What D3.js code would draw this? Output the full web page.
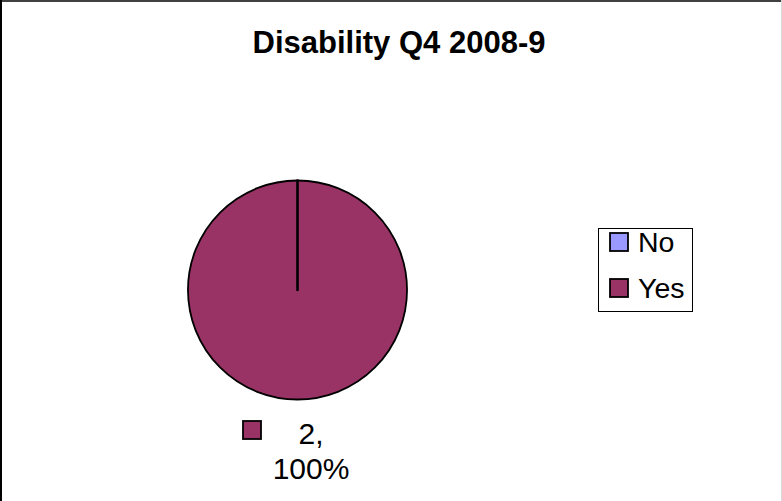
<!DOCTYPE html>
<html>
<head>
<meta charset="utf-8">
<script src="https://cdn.jsdelivr.net/npm/d3@7"></script>
<style>
  html, body { margin: 0; padding: 0; background: #fff; }
  svg { display: block; font-family: "Liberation Sans", Arial, sans-serif; }
</style>
</head>
<body>
<svg id="chart" width="782" height="501"></svg>
<script>
// Chart data
const categories = ["No", "Yes"];
const values = [0, 2];
const colors = ["#9999FF", "#993366"];
const title = "Disability Q4 2008-9";

const W = 782, H = 501;
const svg = d3.select("#chart");

// Frame
svg.append("rect").attr("x", 0).attr("y", 0).attr("width", W).attr("height", H).attr("fill", "#fff");
svg.append("line").attr("x1", 0).attr("y1", 1).attr("x2", W).attr("y2", 1).attr("stroke", "#404040").attr("stroke-width", 2);
svg.append("line").attr("x1", 1).attr("y1", 0).attr("x2", 1).attr("y2", H).attr("stroke", "#000").attr("stroke-width", 2);
svg.append("line").attr("x1", W - 0.5).attr("y1", 0).attr("x2", W - 0.5).attr("y2", H).attr("stroke", "#d9d9d9").attr("stroke-width", 1);

// Title
svg.append("text")
  .attr("x", 399).attr("y", 53)
  .attr("text-anchor", "middle")
  .attr("font-size", 31).attr("font-weight", "bold")
  .text(title);

// Pie
const cx = 297.5, cy = 290, r = 109.5;
const color = d3.scaleOrdinal().domain(categories).range(colors);
const pie = d3.pie().sort(null).value(d => d.value);
const arc = d3.arc().innerRadius(0).outerRadius(r);
const data = categories.map((c, i) => ({ cat: c, value: values[i] }));
const arcs = pie(data);

const g = svg.append("g").attr("transform", `translate(${cx},${cy})`);
// draw the non-empty slices first, empty ones on top so their edge stays visible
g.selectAll("path")
  .data(arcs.slice().sort((a, b) => (b.value > 0) - (a.value > 0)))
  .join("path")
  .attr("d", arc)
  .attr("fill", d => color(d.data.cat))
  .attr("stroke", "#000")
  .attr("stroke-width", d => d.value > 0 ? 1.8 : 2.6)
  .attr("stroke-linejoin", "round");

// Data label for the non-zero slice
const total = d3.sum(values);
arcs.filter(a => a.value > 0).forEach(a => {
  const lx = 311;
  const lg = svg.append("g");
  lg.append("rect")
    .attr("x", 243).attr("y", 421).attr("width", 18).attr("height", 18)
    .attr("fill", color(a.data.cat)).attr("stroke", "#000").attr("stroke-width", 1.8);
  lg.append("text").attr("x", lx).attr("y", 444).attr("text-anchor", "middle")
    .attr("font-size", 30).text(`${a.value},`);
  lg.append("text").attr("x", lx).attr("y", 479).attr("text-anchor", "middle")
    .attr("font-size", 30).text(`${Math.round(a.value / total * 100)}%`);
});

// Legend
const legend = svg.append("g");
legend.append("rect")
  .attr("x", 598.5).attr("y", 228.5).attr("width", 94).attr("height", 83)
  .attr("fill", "#fff").attr("stroke", "#000").attr("stroke-width", 1);
const rows = legend.selectAll("g.item").data(categories).join("g")
  .attr("class", "item")
  .attr("transform", (d, i) => `translate(0,${242 + i * 46})`);
rows.append("rect")
  .attr("x", 610).attr("y", -9).attr("width", 18).attr("height", 18)
  .attr("fill", d => color(d)).attr("stroke", "#000").attr("stroke-width", 1.8);
rows.append("text")
  .attr("x", 638).attr("y", 10)
  .attr("font-size", 28.5)
  .text(d => d);
</script>
</body>
</html>
